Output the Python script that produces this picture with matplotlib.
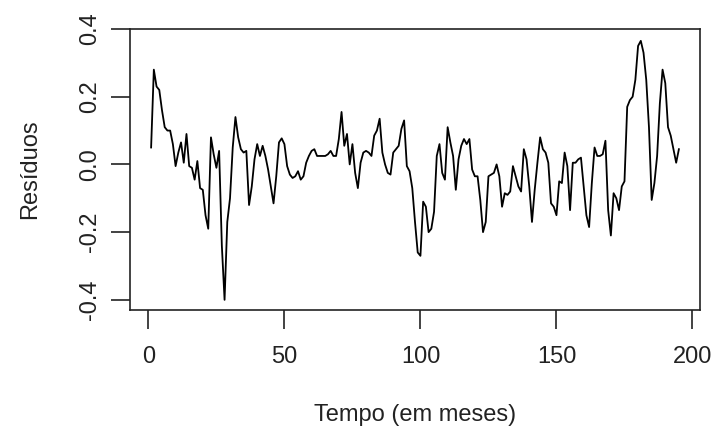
import numpy as np
import matplotlib
matplotlib.use("Agg")
import matplotlib.pyplot as plt

plt.rcParams["font.family"] = ["Liberation Sans", "DejaVu Sans"]
plt.rcParams["axes.unicode_minus"] = False

# residuals, one value per month
residuos = [
    0.05, 0.28, 0.23, 0.22, 0.16, 0.11, 0.10, 0.10, 0.06, -0.005,
    0.035, 0.065, 0.005, 0.09, -0.005, -0.01, -0.045, 0.01, -0.07, -0.075,
    -0.15, -0.19, 0.08, 0.03, -0.01, 0.04, -0.24, -0.40, -0.17, -0.10,
    0.05, 0.14, 0.08, 0.045, 0.035, 0.04, -0.12, -0.065, 0.015, 0.06,
    0.025, 0.055, 0.025, -0.015, -0.065, -0.115, -0.035, 0.065, 0.077, 0.06,
    -0.005, -0.03, -0.04, -0.035, -0.02, -0.045, -0.035, 0.005, 0.025, 0.04,
    0.045, 0.025, 0.025, 0.025, 0.025, 0.03, 0.04, 0.025, 0.025, 0.075,
    0.155, 0.055, 0.09, 0.0, 0.06, -0.025, -0.07, 0.005, 0.035, 0.04,
    0.035, 0.025, 0.085, 0.10, 0.135, 0.035, 0.0, -0.025, -0.03, 0.035,
    0.045, 0.055, 0.105, 0.13, -0.005, -0.02, -0.07, -0.17, -0.26, -0.27,
    -0.11, -0.125, -0.20, -0.19, -0.14, 0.025, 0.06, -0.025, -0.045, 0.11,
    0.065, 0.025, -0.075, 0.015, 0.055, 0.075, 0.06, 0.075, -0.015, -0.035,
    -0.035, -0.105, -0.20, -0.17, -0.035, -0.03, -0.025, 0.0, -0.035, -0.125,
    -0.085, -0.09, -0.08, -0.005, -0.035, -0.065, -0.08, 0.045, 0.015, -0.065,
    -0.17, -0.075, 0.005, 0.08, 0.045, 0.035, 0.005, -0.115, -0.125, -0.15,
    -0.05, -0.055, 0.035, -0.005, -0.135, 0.005, 0.005, 0.015, 0.02, -0.065,
    -0.15, -0.185, -0.055, 0.05, 0.025, 0.025, 0.03, 0.07, -0.135, -0.21,
    -0.085, -0.10, -0.135, -0.065, -0.05, 0.17, 0.19, 0.20, 0.25, 0.35,
    0.365, 0.33, 0.25, 0.11, -0.105, -0.055, 0.025, 0.18, 0.28, 0.24,
    0.11, 0.085, 0.045, 0.005, 0.045,
]
meses = np.arange(1, len(residuos) + 1)

x_ticks = [0, 50, 100, 150, 200]
y_ticks = [-0.4, -0.2, 0.0, 0.2, 0.4]
y_tick_labels = ["-0.4", "-0.2", "0.0", "0.2", "0.4"]

fig = plt.figure(figsize=(7.13, 4.30), dpi=100)
ax = fig.add_axes([130 / 713, 1 - 310 / 430, 570 / 713, 281 / 430])

ax.plot(meses, residuos, color="black", linewidth=1.3)

# R-style 4% padding on both axes
n = len(residuos)
pad_x = 0.04 * (n - 1)
ax.set_xlim(1 - pad_x, n + pad_x)
ax.set_ylim(-0.43, 0.40)

ax.set_xticks(x_ticks)
ax.set_yticks(y_ticks)
ax.set_yticklabels(y_tick_labels, rotation=90, va="center")

for s in ax.spines.values():
    s.set_linewidth(1.2)
    s.set_color("#222222")

ax.tick_params(axis="both", direction="out", length=14, width=1.2,
               colors="#222222", labelsize=17, labelcolor="#222222")
ax.tick_params(axis="x", pad=12)
ax.tick_params(axis="y", pad=7)

ax.set_xlabel("Tempo (em meses)", fontsize=17, color="#222222", labelpad=26)
ax.set_ylabel("Resíduos", fontsize=17, color="#222222", labelpad=27)

fig.savefig("out.png", dpi=100)
